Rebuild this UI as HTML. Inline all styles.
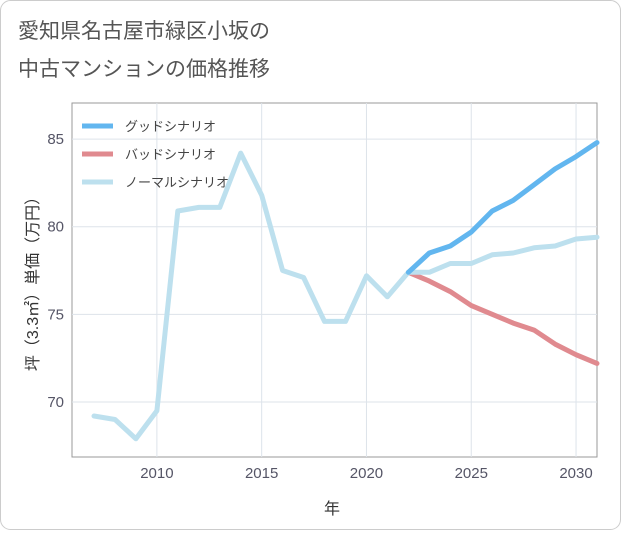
<!DOCTYPE html>
<html><head><meta charset="utf-8"><style>
body{margin:0;background:#fff;}
#wrap{position:relative;width:621px;height:530px;font-family:"Liberation Sans","Noto Sans CJK JP",sans-serif;}
svg text{font-family:"Liberation Sans","Noto Sans CJK JP",sans-serif;}
</style></head><body>
<div id="wrap">
<svg id="chart" width="621" height="530">
<rect x="0.5" y="0.5" width="620" height="529" rx="10" fill="#fff" stroke="#ccc"/>
<text x="18" y="38" font-size="21" fill="#555">愛知県名古屋市緑区小坂の</text>
<text x="18" y="76" font-size="21" fill="#555">中古マンションの価格推移</text>
<g id="grid"></g><g id="series"></g><g id="axes"></g>
<text x="332" y="514" font-size="16" fill="#333" text-anchor="middle">年</text>
<text transform="translate(38,280) rotate(-90)" font-size="16" fill="#333" text-anchor="middle">坪（3.3㎡）単価（万円）</text>
<g id="legend"></g>
</svg></div>
<script>
const years=[2007,2008,2009,2010,2011,2012,2013,2014,2015,2016,2017,2018,2019,2020,2021,2022,2023,2024,2025,2026,2027,2028,2029,2030,2031];
const normal=[69.2,69.0,67.9,69.5,80.9,81.1,81.1,84.2,81.8,77.5,77.1,74.6,74.6,77.2,76.0,77.4,77.4,77.9,77.9,78.4,78.5,78.8,78.9,79.3,79.4];
const futureYears=[2022,2023,2024,2025,2026,2027,2028,2029,2030,2031];
const good=[77.4,78.5,78.9,79.7,80.9,81.5,82.4,83.3,84.0,84.8];
const bad=[77.4,76.9,76.3,75.5,75.0,74.5,74.1,73.3,72.7,72.2];
const xTicks=[2010,2015,2020,2025,2030];
const yTicks=[70,75,80,85];
const legendLabels=["グッドシナリオ","バッドシナリオ","ノーマルシナリオ"];
const NS="http://www.w3.org/2000/svg";
const L=72,R=597,T=103,B=457;
const xMin=2005.95,xMax=2031.0,yMin=66.86,yMax=87.06;
const xs=v=>L+(v-xMin)/(xMax-xMin)*(R-L);
const ys=v=>B-(v-yMin)/(yMax-yMin)*(B-T);
function mk(t,a,p){const e=document.createElementNS(NS,t);for(const k in a)e.setAttribute(k,a[k]);p.appendChild(e);return e;}
const grid=document.getElementById('grid'),axes=document.getElementById('axes'),ser=document.getElementById('series'),leg=document.getElementById('legend');
mk('rect',{x:L,y:T,width:R-L,height:B-T,fill:'#fff',stroke:'#999','stroke-width':1},grid);
xTicks.forEach(t=>{const l=mk('line',{x1:xs(t),x2:xs(t),y1:T,y2:B,stroke:'#dde3ea'},grid);

const tx=mk('text',{x:xs(t),y:B+21,'font-size':15,fill:'#556','text-anchor':'middle'},axes);tx.textContent=t;
});
yTicks.forEach(t=>{const l=mk('line',{x1:L,x2:R,y1:ys(t),y2:ys(t),stroke:'#dde3ea'},grid);

const tx=mk('text',{x:L-8,y:ys(t)+5,'font-size':15,fill:'#556','text-anchor':'end'},axes);tx.textContent=t;
});
function line(xv,yv,col,name){const d=xv.map((x,i)=>(i?'L':'M')+xs(x).toFixed(1)+','+ys(yv[i]).toFixed(1)).join('');
const p=mk('path',{d:d,fill:'none',stroke:col,'stroke-width':5,'stroke-linejoin':'round','stroke-linecap':'round'},ser);
}
line(futureYears,bad,'#e08a8f','bad-scenario-line');
line(years,normal,'#bde0ee','normal-scenario-line');
line(futureYears,good,'#62b6ef','good-scenario-line');
const cols=['#62b6ef','#e08a8f','#bde0ee'];
legendLabels.forEach((s,i)=>{const y=126+i*28;
const l=mk('line',{x1:82,x2:113,y1:y,y2:y,stroke:cols[i],'stroke-width':5},leg);

const t=mk('text',{x:125,y:y+5,'font-size':13,fill:'#444'},leg);t.textContent=s;
});
</script>
</body></html>
